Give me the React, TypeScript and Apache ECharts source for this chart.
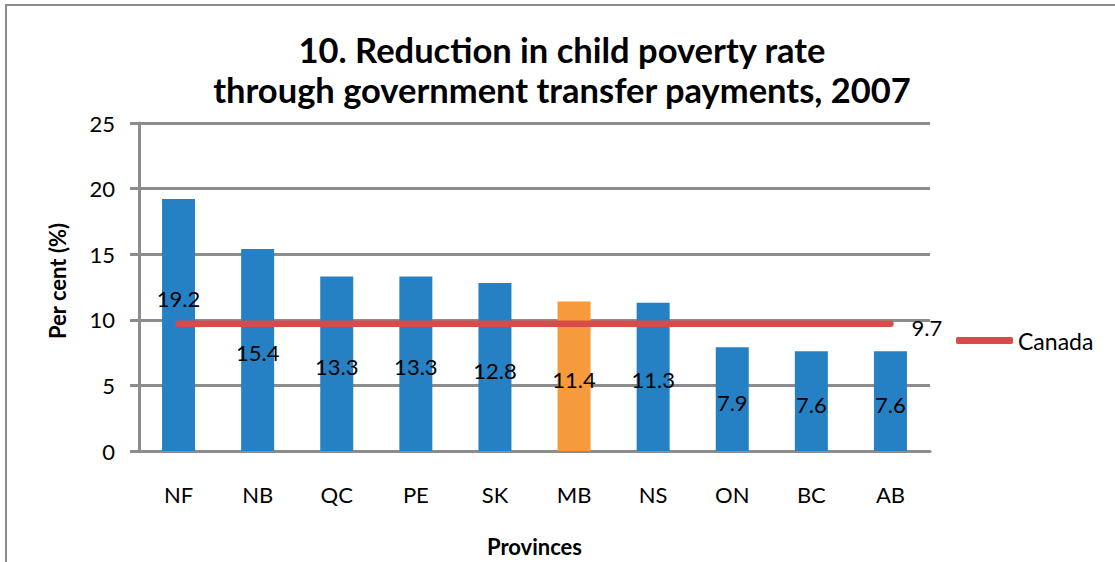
import React, { useEffect, useRef } from "react";
import * as echarts from "echarts";

const provinces = ["NF", "NB", "QC", "PE", "SK", "MB", "NS", "ON", "BC", "AB"];
const reduction = [19.2, 15.4, 13.3, 13.3, 12.8, 11.4, 11.3, 7.9, 7.6, 7.6];
const canada = [9.7, 9.7, 9.7, 9.7, 9.7, 9.7, 9.7, 9.7, 9.7, 9.7];
const highlight = "MB";

const FONT = "Lato";

export default function App() {
  const ref = useRef<HTMLDivElement>(null);
  useEffect(() => {
    if (!ref.current) return;
    const chart = echarts.init(ref.current, null, { renderer: "svg" });
    chart.setOption({
      animation: false,
      backgroundColor: "#ffffff",
      textStyle: { fontFamily: FONT },
      title: {
        text: "10. Reduction in child poverty rate\nthrough government transfer payments, 2007",
        left: 557,
        textAlign: "center",
        top: 24,
        textStyle: { fontFamily: FONT, fontWeight: "bold", fontSize: 34.5, lineHeight: 40, color: "#000" },
      },
      graphic: [
        {
          type: "rect",
          shape: { x: 6, y: 5, width: 1200, height: 700 },
          style: { fill: "none", stroke: "#8c8c8c", lineWidth: 2 },
          silent: true,
        },
        {
          type: "text",
          x: 57,
          y: 281,
          rotation: Math.PI / 2,
          style: {
            text: "Per cent (%)",
            fontFamily: FONT,
            fontWeight: "bold",
            fontSize: 22,
            fill: "#000",
            textAlign: "center",
            textVerticalAlign: "middle",
          },
        },
      ],
      legend: {
        left: 951,
        top: 324,
        itemWidth: 57,
        itemHeight: 7,
        itemGap: 6,
        data: [{ name: "Canada", icon: "roundRect" }],
        textStyle: { fontFamily: FONT, fontSize: 23, color: "#000" },
      },
      grid: { left: 139, right: 185, top: 123, bottom: 103, containLabel: false },
      xAxis: {
        type: "category",
        data: provinces,
        name: "Provinces",
        nameLocation: "middle",
        nameGap: 84,
        nameTextStyle: { fontFamily: FONT, fontWeight: "bold", fontSize: 22, color: "#000" },
        axisLine: { show: true, lineStyle: { color: "#8c8c8c", width: 3 } },
        axisTick: { show: false },
        axisLabel: { margin: 32, fontFamily: FONT, fontSize: 22, color: "#000" },
      },
      yAxis: {
        type: "value",
        min: 0,
        max: 25,
        interval: 5,
        axisLine: { show: true, lineStyle: { color: "#8c8c8c", width: 3 } },
        axisTick: { show: true, length: 9, lineStyle: { color: "#8c8c8c", width: 3 } },
        axisLabel: { margin: 24, fontFamily: FONT, fontSize: 22, color: "#000" },
        splitLine: { show: true, lineStyle: { color: "#8c8c8c", width: 3 } },
      },
      series: [
        {
          type: "bar",
          name: "Reduction",
          barWidth: 33,
          data: reduction.map((v, i) => ({
            value: v,
            itemStyle: { color: provinces[i] === highlight ? "#F79A3B" : "#2581C4" },
            label: { offset: i === 0 ? [0, -27] : [0, 3] },
          })),
          label: {
            show: true,
            position: "inside",
            fontFamily: FONT,
            fontSize: 22,
            color: "#000",
          },
          z: 2,
        },
        {
          type: "line",
          name: "Canada",
          data: canada,
          showSymbol: false,
          symbol: "none",
          itemStyle: { color: "#D94B4B" },
          lineStyle: { color: "#D94B4B", width: 6.5, cap: "round" },
          endLabel: {
            show: true,
            distance: 21,
            offset: [0, 4],
            formatter: (p: any) => String(p.value),
            fontFamily: FONT,
            fontSize: 22,
            color: "#000",
          },
          z: 3,
        },
      ],
    });
    return () => chart.dispose();
  }, []);
  return (
    <div
      ref={ref}
      style={{ position: "absolute", left: 0, top: 0, width: 1115, height: 562 }}
    />
  );
}
